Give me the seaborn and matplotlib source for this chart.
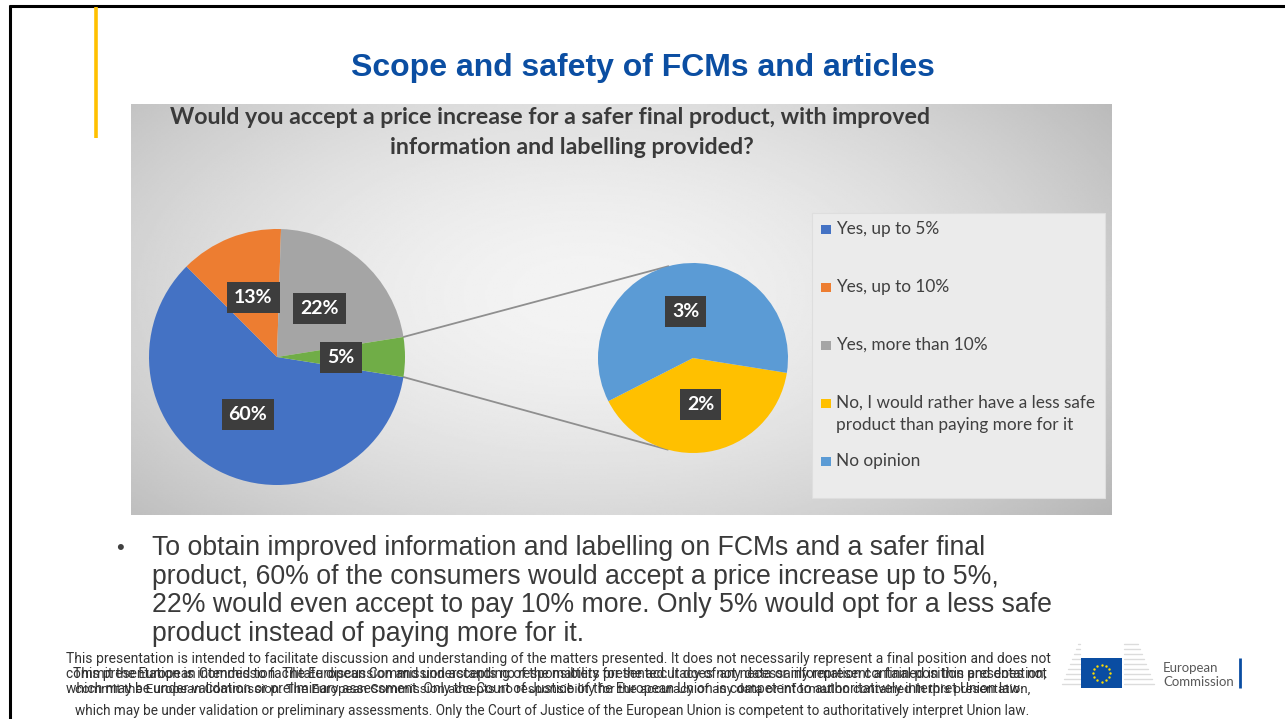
import numpy as np
import matplotlib
matplotlib.use('Agg')
import matplotlib.pyplot as plt
from matplotlib import font_manager
from matplotlib.patches import Rectangle
import seaborn as sns

W, H = 1285, 719

slide_title = 'Scope and safety of FCMs and articles'
chart_title = ['Would you accept a price increase for a safer final product, with improved',
               'information and labelling provided?']

# main pie: the last slice ("other") is split out in the small pie
main_values = [60, 13, 22, 5]
sub_values = [2, 3]

legend_labels = ['Yes, up to 5%', 'Yes, up to 10%', 'Yes, more than 10%',
                 'No, I would rather have a less safe\nproduct than paying more for it',
                 'No opinion']

bullet_lines = ['To obtain improved information and labelling on FCMs and a safer final',
                'product, 60% of the consumers would accept a price increase up to 5%,',
                '22% would even accept to pay 10% more. Only 5% would opt for a less safe',
                'product instead of paying more for it.']

footer_a = ['This presentation is intended to facilitate discussion and understanding of the matters presented. It does not necessarily represent a final position and does not',
            'commit the European Commission. The European Commission accepts no responsibility for the accuracy of any data or information contained in this presentation,',
            'which may be under validation or preliminary assessment. Only the Court of Justice of the European Union is competent to authoritatively interpret Union law.']
footer_b = ['This presentation is intended to facilitate discussion and understanding of the matters presented. It does not necessarily represent a final position and does not',
            'commit the European Commission. The European Commission accepts no responsibility for the accuracy of any data or information contained in this presentation,',
            'which may be under validation or preliminary assessments. Only the Court of Justice of the European Union is competent to authoritatively interpret Union law.']

pal = sns.color_palette(['#4472C4', '#ED7D31', '#A5A5A5', '#FFC000', '#5B9BD5'])
other_color = '#70AD47'
main_colors = [pal[0], pal[1], pal[2], other_color]
sub_colors = [pal[3], pal[4]]

sns.set_theme(style='white')
plt.rcParams['font.family'] = ['Lato', 'DejaVu Sans']

names = {f.name for f in font_manager.fontManager.ttflist}
narrow = 'Liberation Sans Narrow' if 'Liberation Sans Narrow' in names else 'Roboto'


def Y(y):
    return H - y


fig = plt.figure(figsize=(W / 100, H / 100), dpi=100)
fig.patch.set_facecolor('white')
ax = fig.add_axes([0, 0, 1, 1])

# slide frame + yellow bar
ax.plot([9.5, 9.5], [Y(5), 0], color='black', lw=2.2, solid_capstyle='butt')
ax.plot([8.5, W], [Y(6), Y(6)], color='black', lw=2.2, solid_capstyle='butt')
ax.plot([96, 96], [Y(7), Y(138)], color='#FFC000', lw=2.6, solid_capstyle='butt')

ax.text(643, Y(68), slide_title, ha='center', va='center', fontsize=23, fontweight='bold',
        color='#0B4EA2', family='Liberation Sans')

# chart background (radial gradient)
gx = np.linspace(131, 1112, 500)
gy = np.linspace(104, 515, 220)
XX, YY = np.meshgrid(gx, gy)
rr = np.sqrt(((XX - 585) / 580) ** 2 + ((YY - 295) / 310) ** 2)
shade = 0.955 - 0.19 * np.clip(rr, 0, 1.3) ** 1.7
ax.imshow(shade, cmap='gray', vmin=0, vmax=1, extent=(131, 1112, Y(515), Y(104)),
          origin='upper', aspect='auto', interpolation='bilinear', zorder=0)

ax.text(550, Y(118), chart_title[0], ha='center', va='center', fontsize=16.7,
        fontweight='bold', color='#3a3a3a', zorder=5)
ax.text(572, Y(148), chart_title[1], ha='center', va='center', fontsize=16.7,
        fontweight='bold', color='#3a3a3a', zorder=5)

# pies
c1, r1 = (277, Y(357)), 128
c2, r2 = (693, Y(358)), 95
box = dict(boxstyle='square,pad=0.36', fc='#3d3d3d', ec='none')
tp = dict(color='white', fontsize=14, fontweight='bold')

w1, t1 = ax.pie(main_values, colors=main_colors, startangle=-9, counterclock=False,
                center=c1, radius=r1, labels=[f'{v}%' for v in main_values],
                labeldistance=0.5, textprops=tp, wedgeprops=dict(linewidth=0, zorder=3))
w2, t2 = ax.pie(sub_values, colors=sub_colors, startangle=-9, counterclock=False,
                center=c2, radius=r2, labels=[f'{v}%' for v in sub_values],
                labeldistance=0.5, textprops=tp, wedgeprops=dict(linewidth=0, zorder=3))
for t in t1 + t2:
    t.set_ha('center')
    t.set_va('center')
    t.set_bbox(box)
    t.set_zorder(6)

# connector lines from the split slice to the small pie (tangents)
g = w1[3]
for ang, sign in [(g.theta2, -1), (g.theta1, 1)]:
    p = np.array(c1) + r1 * np.array([np.cos(np.radians(ang)), np.sin(np.radians(ang))])
    d = p - np.array(c2)
    base = np.arctan2(d[1], d[0])
    off = np.arccos(r2 / np.hypot(*d))
    q = np.array(c2) + r2 * np.array([np.cos(base + sign * off), np.sin(base + sign * off)])
    ax.plot([p[0], q[0]], [p[1], q[1]], color='#8f8f8f', lw=1.3, zorder=2)

# legend
ax.add_patch(Rectangle((812, Y(498)), 293, 285, fc='#ebebeb', ec='#dedede', lw=0.8, zorder=1))
leg_colors = [pal[0], pal[1], pal[2], pal[3], pal[4]]
for i, lab in enumerate(legend_labels):
    yc = 229 + 58 * i
    ax.add_patch(Rectangle((821, Y(yc) - 4.5), 10, 9, fc=leg_colors[i], ec='none', zorder=4))
    ax.text(836, Y(yc - 8), lab, ha='left', va='top', fontsize=12.4, color='#404040',
            linespacing=1.45, zorder=5)

# bullet text
ax.text(120, Y(548), '\u2022', ha='center', va='center', fontsize=16, color='#404040',
        family='Liberation Sans')
for i, line in enumerate(bullet_lines):
    ax.text(152, Y(548 + 28.7 * i), line, ha='left', va='center', fontsize=19.2,
            color='#3a3a3a', family='Liberation Sans')

# footer (two overlapping copies of the disclaimer)
fa = [ax.text(66, Y(659 + 15 * i), s, ha='left', va='center', fontsize=8, color='#333333',
              family=narrow) for i, s in enumerate(footer_a)]
fb_y = [674, 689, 711]
fb_x = [73, 75, 75]
fb = [ax.text(fb_x[i], Y(fb_y[i]), s, ha='left', va='center', fontsize=8, color='#333333',
              family=narrow) for i, s in enumerate(footer_b)]

# EU logo
for k in range(9):
    yy = 644 + 5 * k
    ax.plot([1062 + 2 * (8 - k), 1080], [Y(yy), Y(yy)], color='#dcdcdc', lw=1, zorder=2)
    ax.plot([1124, 1138 + 2 * k], [Y(yy), Y(yy)], color='#dcdcdc', lw=1, zorder=2)
ax.add_patch(Rectangle((1081, Y(688)), 41, 30, fc='#0A4DA2', ec='none', zorder=3))
sa = np.radians(np.arange(0, 360, 30))
ax.scatter(1101.5 + 8.5 * np.cos(sa), Y(673) + 8.5 * np.sin(sa), s=3, color='#FFDD00', zorder=4,
           linewidths=0)
ax.text(1163, Y(668), 'European', ha='left', va='center', fontsize=9.5, color='#5a5a5a')
ax.text(1163, Y(682), 'Commission', ha='left', va='center', fontsize=9.5, color='#5a5a5a')
ax.plot([1240, 1240], [Y(658), Y(688)], color='#0A4DA2', lw=2, solid_capstyle='butt')

ax.set_xlim(0, W)
ax.set_ylim(0, H)
ax.set_aspect('auto')
ax.axis('off')

# fit footer lines to their widths in the slide
fig.canvas.draw()
rend = fig.canvas.get_renderer()
targets = [(fa[0], 986), (fa[1], 984), (fa[2], 964), (fb[0], 977), (fb[1], 960), (fb[2], 958)]
for t, tw in targets:
    w = t.get_window_extent(rend).width
    t.set_fontsize(t.get_fontsize() * tw / w)

fig.savefig('out.png', dpi=100)
